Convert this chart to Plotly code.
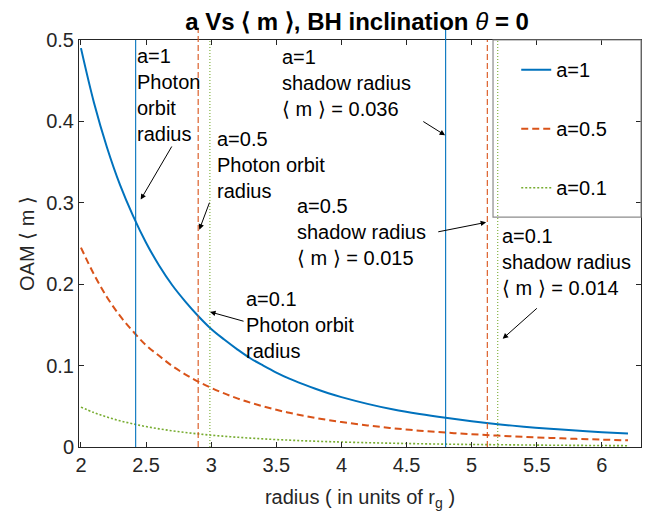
import plotly.graph_objects as go

# ---- data ----
radius = [2.0, 2.1, 2.2, 2.3, 2.4, 2.5, 2.6, 2.7, 2.8, 2.9, 3.0, 3.1, 3.2, 3.3, 3.4,
          3.5, 3.6, 3.7, 3.8, 3.9, 4.0, 4.2, 4.4, 4.6, 4.8, 5.0, 5.2, 5.4, 5.6, 5.8,
          6.0, 6.2]
oam_a1 = [0.490, 0.423, 0.368, 0.322, 0.284, 0.251, 0.223, 0.199, 0.179, 0.161,
          0.145, 0.132, 0.120, 0.109, 0.100, 0.0915, 0.084, 0.0775, 0.0715, 0.066,
          0.0613, 0.053, 0.046, 0.0405, 0.0358, 0.0316, 0.028, 0.025, 0.0224,
          0.0202, 0.0182, 0.0165]
oam_a05 = [0.245, 0.212, 0.184, 0.161, 0.142, 0.125, 0.112, 0.0996, 0.0893, 0.0803,
           0.0726, 0.0658, 0.0598, 0.0545, 0.0499, 0.0457, 0.042, 0.0387, 0.0357,
           0.033, 0.0306, 0.0265, 0.023, 0.0201, 0.0177, 0.0157, 0.014, 0.0125,
           0.0112, 0.010, 0.0091, 0.0082]
oam_a01 = [0.049, 0.0423, 0.0368, 0.0322, 0.0284, 0.0251, 0.0223, 0.0199, 0.0179,
           0.0161, 0.0145, 0.0132, 0.012, 0.0109, 0.010, 0.0091, 0.0084, 0.0077,
           0.0071, 0.0066, 0.0061, 0.0053, 0.0046, 0.004, 0.0035, 0.0031, 0.0028,
           0.0025, 0.0022, 0.002, 0.0018, 0.0016]
series_names = ["a=1", "a=0.5", "a=0.1"]

# photon orbit radius and shadow radius for each spin
photon_orbit = [2.42, 2.90, 2.99]
shadow_radius = [4.80, 5.12, 5.20]

x_ticks = [2, 2.5, 3, 3.5, 4, 4.5, 5, 5.5, 6]
y_ticks = [0, 0.1, 0.2, 0.3, 0.4, 0.5]

labels = [
    "a=1<br>Photon<br>orbit<br>radius",
    "a=0.5<br>Photon orbit<br>radius",
    "a=0.1<br>Photon orbit<br>radius",
    "a=1<br>shadow radius<br>\u27e8 m \u27e9 = 0.036",
    "a=0.5<br>shadow radius<br>\u27e8 m \u27e9 = 0.015",
    "a=0.1<br>shadow radius<br>\u27e8 m \u27e9 = 0.014",
]
label_pos = [(2.415, 0.496), (3.029, 0.394), (3.252, 0.198),
             (3.526, 0.495), (3.644, 0.3115), (5.216, 0.275)]
arrow_head = [(2.459, 0.304), (2.909, 0.267), (2.991, 0.166),
              (4.796, 0.383), (5.111, 0.276), (5.238, 0.133)]
arrow_tail = [(2.704, 0.371), (2.991, 0.302), (3.26, 0.154),
              (4.617, 0.401), (4.732, 0.264), (5.512, 0.172)]

# ---- styling ----
FONT = "Liberation Sans, Arial, sans-serif"
AX = "#262626"
colors = ["#0072BD", "#D95319", "#77AC30"]
curve_dash = ["solid", "7px,4px", "2px,2px"]
vline_dash = ["solid", "6px,3px", "1px,2px"]
photon_top = [1.0, 1.03, 1.0]
shadow_top = [1.03, 1.0, 1.0]

fig = go.Figure()
for name, ys, c, d in zip(series_names, [oam_a1, oam_a05, oam_a01], colors, curve_dash):
    fig.add_trace(go.Scatter(
        x=radius, y=ys, mode="lines", name=name, legendgroup=name,
        line=dict(color=c, width=2 if d != "2px,2px" else 1.6, dash=d, shape="spline"),
    ))

shapes = []
for xs, tops in [(photon_orbit, photon_top), (shadow_radius, shadow_top)]:
    for xv, top, c, d in zip(xs, tops, colors, vline_dash):
        shapes.append(dict(type="line", xref="x", yref="y domain", x0=xv, x1=xv,
                           y0=0, y1=top, line=dict(color=c, width=1.1, dash=d),
                           layer="above"))
# legend box
shapes.append(dict(type="rect", xref="paper", yref="paper", x0=0.7367, x1=1.0,
                   y0=0.565, y1=1.0, line=dict(color="#8c8c8c", width=1.2),
                   fillcolor="rgba(0,0,0,0)"))

annotations = []
for txt, (tx, ty) in zip(labels, label_pos):
    annotations.append(dict(x=tx, y=ty, xref="x", yref="y", text=txt, showarrow=False,
                            xanchor="left", yanchor="top", align="left",
                            font=dict(family=FONT, size=20, color="#000000")))
for (hx, hy), (tx, ty) in zip(arrow_head, arrow_tail):
    annotations.append(dict(x=hx, y=hy, xref="x", yref="y", ax=tx, ay=ty,
                            axref="x", ayref="y", text="", showarrow=True,
                            arrowhead=2, arrowsize=1.1, arrowwidth=1,
                            arrowcolor="#000000"))

fig.update_layout(
    width=650, height=517,
    margin=dict(l=71, r=17, t=32, b=78),
    paper_bgcolor="white", plot_bgcolor="white",
    font=dict(family=FONT, size=20, color=AX),
    title=dict(text="<b>a Vs \u27e8 m \u27e9, BH inclination </b><i>\u03b8</i><b> = 0</b>",
               x=0.537, xanchor="center", y=0.99, yanchor="top",
               font=dict(family=FONT, size=24, color="#000000")),
    showlegend=True,
    legend=dict(x=0.778, y=0.975, xanchor="left", yanchor="top",
                bgcolor="rgba(0,0,0,0)", borderwidth=0,
                font=dict(family=FONT, size=20, color="#000000"),
                tracegroupgap=30, itemwidth=30),
    shapes=shapes,
    annotations=annotations,
    xaxis=dict(range=[1.985, 6.30], tickvals=x_ticks, ticks="inside", ticklen=5,
               showline=True, linecolor=AX, linewidth=1, mirror="ticks",
               showgrid=False, zeroline=False, tickcolor=AX, automargin=False,
               tickfont=dict(family=FONT, size=20, color=AX),
               title=dict(text="radius ( in units of r<sub>g</sub> )", standoff=14,
                          font=dict(family=FONT, size=20, color=AX))),
    yaxis=dict(range=[0, 0.5], tickvals=y_ticks, ticks="inside", ticklen=5,
               showline=True, linecolor=AX, linewidth=1, mirror="ticks",
               showgrid=False, zeroline=False, tickcolor=AX, automargin=False,
               tickfont=dict(family=FONT, size=20, color=AX),
               title=dict(text="OAM \u27e8 m \u27e9", standoff=6,
                          font=dict(family=FONT, size=20, color=AX))),
)

fig.write_html("out.html")
